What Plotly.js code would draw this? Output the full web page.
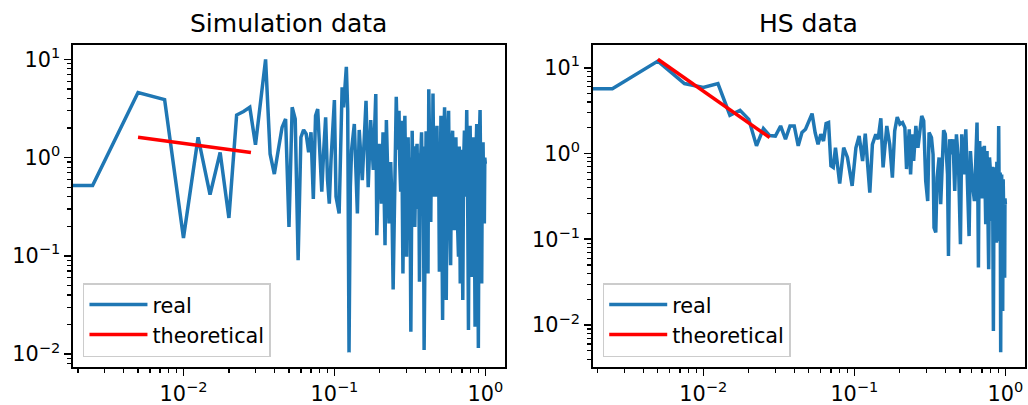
<!DOCTYPE html>
<html>
<head>
<meta charset="utf-8">
<script src="https://cdn.plot.ly/plotly-3.0.1.min.js"></script>
<style>html,body{margin:0;padding:0;background:#fff;}#chart{width:1028px;height:405px;}</style>
</head>
<body>
<div id="chart"></div>
<script>
// ---- Simulation data (left panel) ----
var simX = [0.001,0.0025,0.005,0.0075,0.01,0.0125,0.015,0.0175,0.02,0.0225,0.025,0.0275,0.03,0.0325,0.035,
  0.0375,0.04,0.0425,0.045,0.0475,0.05,0.0525,0.055,0.0575,0.06,0.0625,0.065,0.0675,0.07,0.0725,0.075,
  0.0775,0.08,0.0825,0.085,0.0875,0.09,0.0925,0.095,0.0975,0.1,0.1025,0.105,0.1075,0.11,0.1125,0.115,
  0.1175,0.12,0.1225,0.125,0.1275,0.13,0.1355,0.142,0.146,0.153,0.162,0.1675,0.174,0.181,0.188,0.191,
  0.198,0.202,0.205,0.210,0.213,0.2165,0.221,0.226,0.230,0.236,0.240,0.245,0.252,0.257,0.262,0.268,
  0.271,0.275,0.279,0.2845,0.289,0.293,0.297,0.301,0.305,0.308,0.312,0.316,0.321,0.3276,0.332,0.336,
  0.341,0.347,0.353,0.358,0.362,0.366,0.372,0.378,0.383,0.388,0.393,0.399,0.405,0.411,0.417,0.422,
  0.428,0.435,0.440,0.445,0.450,0.456,0.461,0.467,0.472,0.478,0.484,0.490,0.496,0.502,0.508,0.514,
  0.521,0.529,0.537,0.544,0.551,0.560,0.571,0.580,0.589,0.598,0.607,0.615,0.622,0.630,0.638,0.650,
  0.664,0.672,0.682,0.695,0.709,0.718,0.727,0.740,0.753,0.763,0.773,0.783,0.793,0.803,0.813,0.825,
  0.838,0.846,0.855,0.866,0.877,0.888,0.899,0.910,0.923,0.935,0.946,0.956,0.966,0.975,0.985,0.992,1.0];
var simY = [0.52,0.52,4.6,3.9,0.152,1.61,0.42,1.13,0.243,2.71,2.95,3.25,1.35,3.7,10.0,
  1.09,0.68,1.2,2.03,2.47,0.197,3.25,2.47,0.090,1.61,1.91,1.74,1.13,1.81,0.38,2.67,
  3.12,1.2,0.45,1.2,2.57,0.6,0.34,0.95,1.91,3.85,0.40,0.33,0.27,1.2,5.2,3.25,
  5.5,8.4,3.0,0.0104,0.5,1.2,2.2,0.27,1.91,0.59,3.78,0.50,2.41,0.75,4.43,0.162,
  1.38,0.6,0.339,1.81,0.7,0.128,2.41,0.8,0.213,0.90,0.4,0.0455,0.43,4.16,1.2,3.0,
  0.86,0.45,2.37,0.066,0.9,2.67,0.5,0.098,0.9,1.61,0.35,1.0,0.0169,1.88,0.4,1.3,
  0.197,1.0,1.38,0.3,1.1,0.0545,0.9,1.81,0.35,1.3,0.011,1.0,1.85,0.3,0.066,4.97,
  0.5,0.221,1.5,0.4,4.5,0.6,1.4,0.40,1.2,2.11,0.5,1.3,0.069,1.0,2.67,0.35,
  0.0222,1.2,3.25,0.4,0.0355,1.5,3.0,0.3,0.080,1.4,1.88,0.4,0.182,1.2,1.61,0.3,
  0.098,1.3,0.0524,1.2,0.0355,0.9,1.88,0.4,3.05,0.5,0.0176,1.3,2.11,0.4,0.061,1.2,
  1.61,0.3,0.019,1.0,2.2,0.4,0.0115,1.3,3.05,0.35,0.0524,1.2,1.43,0.4,0.213,1.0,0.86];
var simTheoX = [0.005, 0.028];
var simTheoY = [1.61, 1.124];

// ---- HS data (right panel) ----
var hsX = [0.001,0.0025,0.005,0.0075,0.01,0.0125,0.015,0.0175,0.02,0.0225,0.025,0.0275,0.03,0.0325,0.035,
  0.0375,0.04,0.0425,0.045,0.0475,0.0525,0.055,0.0575,0.06,0.0625,0.065,0.0675,0.07,0.0725,0.075,
  0.08,0.085,0.09,0.0967,0.1024,0.1076,0.1134,0.1181,0.1266,0.1317,0.1387,0.1436,0.1498,0.155,0.164,
  0.1715,0.1786,0.185,0.1923,0.2003,0.2085,0.216,0.2216,0.231,0.2357,0.2424,0.247,0.2554,0.2636,0.2706,
  0.2793,0.2879,0.2968,0.306,0.3124,0.324,0.332,0.337,0.346,0.353,0.364,0.373,0.383,0.39,0.40,
  0.414,0.42,0.428,0.44,0.45,0.462,0.474,0.489,0.504,0.514,0.53,0.547,0.561,0.575,0.587,
  0.605,0.624,0.636,0.649,0.656,0.663,0.669,0.676,0.685,0.694,0.703,0.711,0.718,0.726,0.733,
  0.741,0.748,0.756,0.765,0.775,0.785,0.796,0.804,0.812,0.822,0.833,0.841,0.85,0.861,0.872,
  0.878,0.885,0.894,0.903,0.91,0.917,0.924,0.931,0.938,0.945,0.952,0.96,0.967,0.974,0.981,
  0.989,0.994,1.0];
var hsY = [5.7,5.7,12.0,6.56,5.89,6.56,2.80,3.2,2.51,1.23,1.96,1.62,1.60,2.1,1.47,
  2.1,2.1,1.23,1.76,1.92,2.93,1.76,1.28,1.68,1.40,2.24,2.30,0.72,0.69,1.17,
  0.447,1.17,0.90,0.42,1.17,1.60,0.82,1.71,0.35,1.28,1.68,1.47,2.58,0.69,2.1,
  1.28,0.525,1.84,2.67,2.20,2.30,2.01,0.66,1.92,0.57,1.68,0.82,2.1,1.17,1.76,
  2.75,2.4,0.48,0.28,1.76,1.54,0.98,0.137,0.12,0.525,0.90,0.256,1.07,1.87,1.68,
  0.57,0.064,1.47,0.98,1.47,0.366,1.68,0.82,0.0875,1.68,0.57,1.92,0.548,0.109,1.07,
  0.44,0.28,1.07,2.30,0.5,0.047,0.6,1.40,0.3,0.525,1.2,0.98,0.3,1.23,0.4,
  0.15,0.8,1.07,0.25,0.0447,0.9,0.627,0.2,0.164,0.7,0.0085,0.5,0.69,0.2,0.091,
  0.8,0.627,0.3,2.1,0.3,0.095,0.6,0.0048,0.3,0.57,0.1,0.0146,0.5,0.256,0.1,
  0.0357,0.3,0.256];
var hsTheoX = [0.005, 0.0275];
var hsTheoY = [12.6, 1.54];

// ---- tick labels ----
var xTickVals = [0.01, 0.1, 1];
var xTickText = ['10<sup>\u22122</sup>', '10<sup>\u22121</sup>', '10<sup>0</sup>'];
var yTickVals = [0.01, 0.1, 1, 10];
var yTickText = ['10<sup>\u22122</sup>', '10<sup>\u22121</sup>', '10<sup>0</sup>', '10<sup>1</sup>'];

function minorVals(lo, hi) {
  var out = [];
  for (var e = -4; e <= 2; e++) {
    for (var m = 2; m <= 9; m++) {
      var v = m * Math.pow(10, e);
      if (v > lo && v < hi) out.push(v);
    }
  }
  return out;
}

var FONT = 'DejaVu Sans, Verdana, sans-serif';
var BLUE = '#1f77b4';
var LW = 3.5;

var traces = [
  {x: simX, y: simY, mode: 'lines', name: 'real', line: {color: BLUE, width: LW}, xaxis: 'x', yaxis: 'y', legend: 'legend'},
  {x: simTheoX, y: simTheoY, mode: 'lines', name: 'theoretical', line: {color: 'red', width: LW}, xaxis: 'x', yaxis: 'y', legend: 'legend'},
  {x: hsX, y: hsY, mode: 'lines', name: 'real', line: {color: BLUE, width: LW}, xaxis: 'x2', yaxis: 'y2', legend: 'legend2'},
  {x: hsTheoX, y: hsTheoY, mode: 'lines', name: 'theoretical', line: {color: 'red', width: LW}, xaxis: 'x2', yaxis: 'y2', legend: 'legend2'}
];

var XR = [-2.732, 0.130];
var Y1R = [-2.132, 1.149];
var Y2R = [-2.49, 1.27];

function axis(extra, tv, tt, range) {
  var lo = Math.pow(10, range[0]), hi = Math.pow(10, range[1]);
  var a = {
    type: 'log', range: range, autorange: false,
    showline: true, linecolor: 'black', linewidth: 1.6, mirror: true,
    ticks: 'outside', ticklen: 7, tickwidth: 1.6, tickcolor: 'black',
    tickmode: 'array', tickvals: tv, ticktext: tt,
    tickfont: {family: FONT, size: 20.8, color: 'black'},
    showgrid: false, zeroline: false, fixedrange: true,
    minor: {tickmode: 'array', tickvals: minorVals(lo, hi), ticks: 'outside', ticklen: 4, tickwidth: 1.2, tickcolor: 'black', showgrid: false}
  };
  for (var k in extra) a[k] = extra[k];
  return a;
}

var legendBase = {
  xanchor: 'left', yanchor: 'bottom', itemwidth: 58,
  bgcolor: 'rgba(255,255,255,0.8)', bordercolor: '#cccccc', borderwidth: 1.5,
  font: {family: FONT, size: 20.8, color: 'black'}
};
var leg1 = Object.assign({}, legendBase, {x: 0.0807, y: 0.1185});
var leg2 = Object.assign({}, legendBase, {x: 0.5863, y: 0.1185});

var layout = {
  width: 1028, height: 405,
  margin: {l: 0, r: 0, t: 0, b: 0},
  paper_bgcolor: 'white', plot_bgcolor: 'white',
  showlegend: true,
  xaxis: axis({domain: [0.0710, 0.4912], anchor: 'y'}, xTickVals, xTickText, XR),
  yaxis: axis({domain: [0.0938, 0.8896], anchor: 'x'}, yTickVals, yTickText, Y1R),
  xaxis2: axis({domain: [0.5766, 0.9971], anchor: 'y2'}, xTickVals, xTickText, XR),
  yaxis2: axis({domain: [0.0938, 0.8896], anchor: 'x2'}, yTickVals, yTickText, Y2R),
  legend: leg1,
  legend2: leg2,
  annotations: [
    {text: 'Simulation data', xref: 'paper', yref: 'paper', x: 0.2811, y: 0.9432, xanchor: 'center', yanchor: 'middle', showarrow: false, font: {family: FONT, size: 25, color: 'black'}},
    {text: 'HS data', xref: 'paper', yref: 'paper', x: 0.78685, y: 0.9432, xanchor: 'center', yanchor: 'middle', showarrow: false, font: {family: FONT, size: 25, color: 'black'}}
  ]
};

Plotly.newPlot('chart', traces, layout, {displayModeBar: false, staticPlot: true});
</script>
</body>
</html>
